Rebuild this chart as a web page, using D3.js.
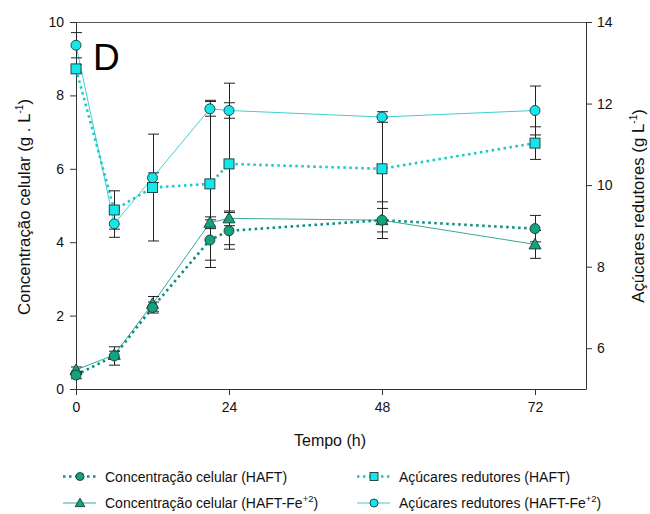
<!DOCTYPE html>
<html>
<head>
<meta charset="utf-8">
<script src="https://cdn.jsdelivr.net/npm/d3@7"></script>
<style>
  html, body { margin: 0; padding: 0; background: #fff; }
  svg { display: block; font-family: "Liberation Sans", Arial, sans-serif; }
</style>
</head>
<body>
<svg id="chart" width="650" height="514"></svg>
<script>
// ---- data ----
const time = [0, 6, 12, 21, 24, 48, 72];
const cellHAFT = [0.38, 0.9, 2.22, 4.06, 4.31, 4.6, 4.37];
const cellHAFTErr = [0.1, 0.25, 0.15, 0.55, 0.5, 0.5, 0.36];
const cellFe = [0.52, 0.93, 2.32, 4.53, 4.65, 4.6, 3.94];
const cellFeErr = [0.08, 0.1, 0.2, 0.16, 0.2, 0.32, 0.38];
const sugarHAFT = [12.85, 9.39, 9.94, 10.03, 10.52, 10.40, 11.03];
const sugarHAFTErr = [0.1, 0.47, 1.31, 2.05, 1.98, 1.25, 0.4];
const sugarFe = [13.43, 9.05, 10.18, 11.87, 11.83, 11.67, 11.83];
const sugarFeErr = [0.31, 0.33, 0.12, 0.18, 0.19, 0.13, 0.6];
const xTicks = [0, 24, 48, 72];
const yLeftTicks = [0, 2, 4, 6, 8, 10];
const yRightTicks = [6, 8, 10, 12, 14];

const svg = d3.select("#chart");
const L = 76, R = 586, T = 22, B = 389;
const x = d3.scaleLinear().domain([0, 80]).range([L, R]);
const yL = d3.scaleLinear().domain([0, 10]).range([B, T]);
const yR = d3.scaleLinear().domain([5, 14]).range([B, T]);

const axisColor = "#333";
const tickFs = 14, titleFs = 16.8, legFs = 14;

// frame top line
svg.append("line").attr("x1", L).attr("x2", R).attr("y1", T + 0.5).attr("y2", T + 0.5)
  .attr("stroke", "#555").attr("stroke-width", 1);

function styleAxis(g) {
  g.selectAll("path.domain").attr("stroke", axisColor);
  g.selectAll(".tick line").attr("stroke", axisColor);
  g.selectAll(".tick text").attr("fill", "#111").style("font-size", tickFs + "px")
    .style("font-family", "'Liberation Sans', Arial, sans-serif");
}

const gx = svg.append("g").attr("transform", `translate(0,${B})`)
  .call(d3.axisBottom(x).tickValues(xTicks).tickSize(6).tickSizeOuter(0).tickPadding(7));
styleAxis(gx);

const gyl = svg.append("g").attr("transform", `translate(${L},0)`)
  .call(d3.axisLeft(yL).tickValues(yLeftTicks).tickSize(6).tickSizeOuter(0).tickPadding(6));
styleAxis(gyl);

const gyr = svg.append("g").attr("transform", `translate(${R},0)`)
  .call(d3.axisRight(yR).tickValues(yRightTicks).tickSize(6).tickSizeOuter(0).tickPadding(5));
styleAxis(gyr);

// axis titles
svg.append("text").attr("x", 330).attr("y", 446).attr("text-anchor", "middle")
  .style("font-size", "16px").attr("fill", "#111").text("Tempo (h)");

const lt = svg.append("text").attr("transform", "translate(30,207) rotate(-90)")
  .attr("text-anchor", "middle").style("font-size", titleFs + "px").attr("fill", "#111");
lt.append("tspan").text("Concentração celular (g . L");
lt.append("tspan").attr("dy", -7).style("font-size", "10px").text("-1");
lt.append("tspan").attr("dy", 7).text(")");

const rt = svg.append("text").attr("transform", "translate(644,206) rotate(-90)")
  .attr("text-anchor", "middle").style("font-size", titleFs + "px").attr("fill", "#111");
rt.append("tspan").text("Açúcares redutores (g L");
rt.append("tspan").attr("dy", -7).style("font-size", "10px").text("-1");
rt.append("tspan").attr("dy", 7).text(")");

// panel letter
svg.append("text").attr("x", 93).attr("y", 70).style("font-size", "37px")
  .attr("fill", "#000").text("D");

// series definitions
const green = "#14a37f", cyan = "#14e6ea";
const series = [
  { vals: sugarFe, err: sugarFeErr, y: yR, line: "#3fcfcf", dash: null, w: 1, shape: "circle", fill: cyan },
  { vals: sugarHAFT, err: sugarHAFTErr, y: yR, line: "#1cc8c8", dash: "2.5,3.5", w: 2.6, shape: "square", fill: cyan },
  { vals: cellFe, err: cellFeErr, y: yL, line: "#3aa898", dash: null, w: 1, shape: "triangle", fill: green },
  { vals: cellHAFT, err: cellHAFTErr, y: yL, line: "#0a8f80", dash: "2.5,3.5", w: 2.6, shape: "circle", fill: green },
];

// lines
series.forEach(s => {
  const line = d3.line().x((d, i) => x(time[i])).y(d => s.y(d));
  svg.append("path").datum(s.vals).attr("d", line).attr("fill", "none")
    .attr("stroke", s.line).attr("stroke-width", s.w)
    .attr("stroke-dasharray", s.dash);
});

// error bars
const cap = 5.5;
series.forEach(s => {
  const g = svg.append("g").attr("stroke", "#222").attr("stroke-width", 1);
  s.vals.forEach((v, i) => {
    const cx = Math.round(x(time[i])) + 0.5;
    const y1 = s.y(v - s.err[i]), y2 = s.y(v + s.err[i]);
    g.append("line").attr("x1", cx).attr("x2", cx).attr("y1", y1).attr("y2", y2);
    g.append("line").attr("x1", cx - cap).attr("x2", cx + cap).attr("y1", y1).attr("y2", y1);
    g.append("line").attr("x1", cx - cap).attr("x2", cx + cap).attr("y1", y2).attr("y2", y2);
  });
});

// markers
function marker(g, shape, cx, cy, fill, k) {
  k = k || 1;
  let el;
  if (shape === "circle") {
    el = g.append("circle").attr("cx", cx).attr("cy", cy).attr("r", 5 * k);
  } else if (shape === "square") {
    el = g.append("rect").attr("x", cx - 5 * k).attr("y", cy - 5 * k).attr("width", 10 * k).attr("height", 10 * k);
  } else {
    el = g.append("path").attr("d", `M${cx},${cy - 6 * k} L${cx + 6 * k},${cy + 4.5 * k} L${cx - 6 * k},${cy + 4.5 * k} Z`);
  }
  el.attr("fill", fill).attr("stroke", "#1a3a38").attr("stroke-width", 0.9);
}
series.forEach(s => {
  const g = svg.append("g");
  s.vals.forEach((v, i) => marker(g, s.shape, x(time[i]), s.y(v), s.fill));
});

// legend
const legend = [
  { col: 0, row: 0, s: series[3], label: ["Concentração celular (HAFT)"] },
  { col: 0, row: 1, s: series[2], label: ["Concentração celular (HAFT-Fe", "+2", ")"] },
  { col: 1, row: 0, s: series[1], label: ["Açúcares redutores (HAFT)"] },
  { col: 1, row: 1, s: series[0], label: ["Açúcares redutores (HAFT-Fe", "+2", ")"] },
];
const colX = [63, 357], rowY = [476.5, 503], textX = [105, 399];
legend.forEach(l => {
  const x0 = colX[l.col], y0 = rowY[l.row];
  svg.append("line").attr("x1", x0).attr("x2", x0 + 33).attr("y1", y0).attr("y2", y0)
    .attr("stroke", l.s.line).attr("stroke-width", l.s.w).attr("stroke-dasharray", l.s.dash);
  marker(svg, l.s.shape, x0 + 17, y0, l.s.fill, 0.8);
  const t = svg.append("text").attr("x", textX[l.col]).attr("y", y0 + 5)
    .style("font-size", legFs + "px").attr("fill", "#111");
  t.append("tspan").text(l.label[0]);
  if (l.label.length > 1) {
    t.append("tspan").attr("dy", -6).style("font-size", "9.5px").text(l.label[1]);
    t.append("tspan").attr("dy", 6).text(l.label[2]);
  }
});
</script>
</body>
</html>
